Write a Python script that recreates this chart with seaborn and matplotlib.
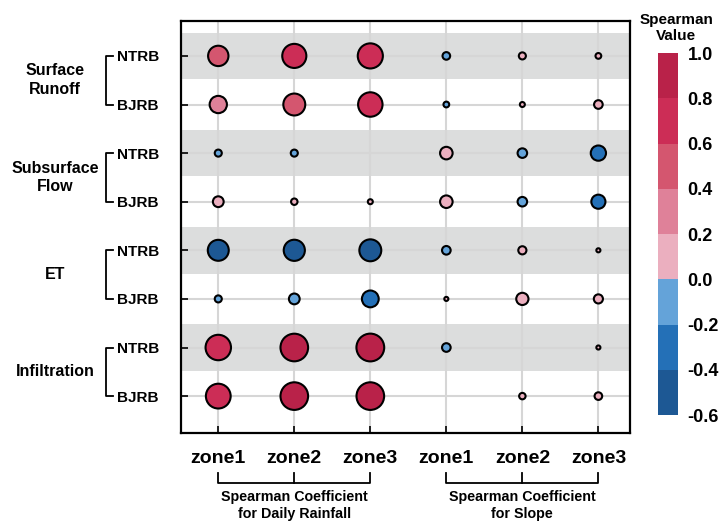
import numpy as np
import pandas as pd
import matplotlib
matplotlib.use("Agg")
import matplotlib.pyplot as plt
import matplotlib.colors as mcolors
import matplotlib.cm as cm
import matplotlib.transforms as mtransforms
import seaborn as sns

# ---- data ----
variables = ["Surface\nRunoff", "Subsurface\nFlow", "ET", "Infiltration"]
basins = ["NTRB", "BJRB"]
zones = ["zone1", "zone2", "zone3"]

# one row per variable/basin pair, columns zone1..zone3 (nan = not shown)
rainfall_coef = [
    [0.50, 0.70, 0.76],    # Surface Runoff NTRB
    [0.36, 0.58, 0.72],    # Surface Runoff BJRB
    [-0.06, -0.06, np.nan],  # Subsurface Flow NTRB
    [0.14, 0.05, 0.03],    # Subsurface Flow BJRB
    [-0.53, -0.54, -0.58],  # ET NTRB
    [-0.06, -0.14, -0.34],  # ET BJRB
    [0.78, 0.92, 0.93],    # Infiltration NTRB
    [0.74, 0.92, 0.92],    # Infiltration BJRB
]
slope_coef = [
    [-0.07, 0.06, 0.04],
    [-0.04, 0.03, 0.09],
    [0.19, -0.11, -0.28],
    [0.19, -0.11, -0.24],
    [-0.09, 0.08, 0.02],
    [0.02, 0.18, 0.10],
    [-0.09, np.nan, 0.02],
    [np.nan, 0.05, 0.07],
]

cbar_bounds = [-0.6, -0.4, -0.2, 0.0, 0.2, 0.4, 0.6, 0.8, 1.0]
cbar_colors = ["#1d5894", "#2470b7", "#64a3d9", "#ebafbf",
               "#df8199", "#d4566f", "#cc2d56", "#b92249"]

# long table for seaborn
row_labels = [f"{v}|{b}" for v in variables for b in basins]
records = []
for r, lab in enumerate(row_labels):
    for c, z in enumerate(zones):
        records.append((lab, r, c, rainfall_coef[r][c]))
        records.append((lab, r, c + 3, slope_coef[r][c]))
df = pd.DataFrame(records, columns=["row_label", "row", "col", "value"]).dropna()
df["magnitude"] = df["value"].abs()

plt.rcParams["font.family"] = ["Liberation Sans", "DejaVu Sans"]
plt.rcParams["font.weight"] = "bold"

cmap = mcolors.ListedColormap(cbar_colors)
norm = mcolors.BoundaryNorm(cbar_bounds, cmap.N)

fig = plt.figure(figsize=(7.27, 5.23), dpi=100)
ax = fig.add_axes([0.249, 0.172, 0.618, 0.788])

# gray bands behind NTRB rows
for r in range(0, len(row_labels), 2):
    ax.axhspan(r - 0.48, r + 0.48, color="#dcdddd", zorder=0, lw=0)
for r in range(len(row_labels)):
    ax.axhline(r, color="#d6d6d6", lw=1.5, zorder=0.5)
for c in range(6):
    ax.axvline(c, color="#d6d6d6", lw=1.5, zorder=0.5)

sns.scatterplot(data=df, x="col", y="row", hue="value", palette=cmap,
                hue_norm=norm, size="magnitude", sizes=(0, 430),
                size_norm=(0, 1), edgecolor="black", linewidth=1.5,
                legend=False, ax=ax, zorder=3)

ax.set_xlim(-0.49, 5.42)
ax.set_ylim(7.76, -0.72)
ax.set_xlabel("")
ax.set_ylabel("")
ax.set_xticks(range(6))
ax.set_xticklabels(zones + zones, fontsize=14, fontweight="bold")
ax.set_yticks(range(len(row_labels)))
ax.set_yticklabels([basins[i % 2] for i in range(len(row_labels))],
                   fontsize=11, fontweight="bold")
ax.tick_params(axis="x", direction="in", length=5, width=1.2, pad=12)
ax.tick_params(axis="y", direction="in", length=5, width=1.2, pad=16)
for s in ax.spines.values():
    s.set_linewidth(1.6)
    s.set_color("black")

# left brackets and group labels
ytrans = mtransforms.blended_transform_factory(ax.transAxes, ax.transData)
for i, var in enumerate(variables):
    y0, y1 = 2 * i, 2 * i + 1
    ax.plot([-0.151, -0.167, -0.167, -0.151], [y0, y0, y1, y1],
            color="black", lw=1.3, transform=ytrans, clip_on=False)
    ax.text(-0.28, (y0 + y1) / 2, var, transform=ytrans, ha="center",
            va="center", fontsize=11.5, fontweight="bold", linespacing=1.3)

# bottom brackets and group labels
xtrans = mtransforms.blended_transform_factory(ax.transData, ax.transAxes)
groups = ["Spearman Coefficient\nfor Daily Rainfall",
          "Spearman Coefficient\nfor Slope"]
for g, label in enumerate(groups):
    x0 = 3 * g
    ax.plot([x0, x0, x0 + 2, x0 + 2], [-0.097, -0.121, -0.121, -0.097],
            color="black", lw=1.3, transform=xtrans, clip_on=False)
    ax.plot([x0 + 1, x0 + 1], [-0.121, -0.097], color="black", lw=1.3,
            transform=xtrans, clip_on=False)
    ax.text(x0 + 1, -0.139, label, transform=xtrans, ha="center", va="top",
            fontsize=10.3, fontweight="bold", linespacing=1.2)

# colorbar
cax = fig.add_axes([0.905, 0.2065, 0.0275, 0.692])
cb = fig.colorbar(cm.ScalarMappable(norm=norm, cmap=cmap), cax=cax,
                  ticks=cbar_bounds)
cb.outline.set_visible(False)
cb.ax.tick_params(length=0, labelsize=13, pad=7)
cb.ax.set_yticklabels([f"{b:.1f}" for b in cbar_bounds], fontweight="bold")
fig.text(0.93, 0.946, "Spearman\nValue", ha="center", va="center",
         fontsize=11, fontweight="bold", linespacing=1.2)

fig.savefig("out.png", dpi=100)
